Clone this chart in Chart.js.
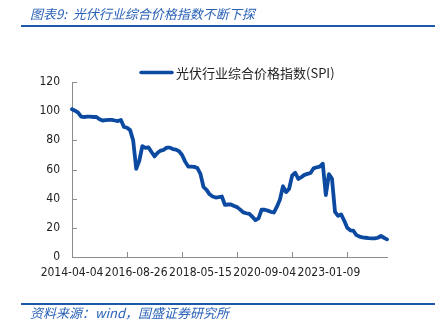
<!DOCTYPE html>
<html>
<head>
<meta charset="utf-8">
<script src="https://cdn.jsdelivr.net/npm/chart.js@4.4.1/dist/chart.umd.min.js"></script>
<style>
  html, body { margin: 0; padding: 0; background: #fff; }
  #wrap { position: relative; width: 435px; height: 327px; overflow: hidden; }
  #spiChart { position: absolute; left: 0; top: 0; }
  .caption {
    position: absolute; left: 30px; white-space: nowrap;
    font-family: "Noto Sans CJK SC", sans-serif; font-style: italic; font-size: 13px;
    color: #2a62b8;
  }
  #title { top: 5px; line-height: 18px; }
  #source { top: 305px; line-height: 16px; }
  .rule { position: absolute; left: 21px; right: 0; height: 2px; background: #1f57ad; }
  #ruleTop { top: 25px; }
  #ruleBottom { top: 303px; }
</style>
</head>
<body>
<div id="wrap">
  <canvas id="spiChart" width="435" height="327"></canvas>
  <div id="title" class="caption">图表9:&nbsp; 光伏行业综合价格指数不断下探</div>
  <div id="ruleTop" class="rule"></div>
  <div id="ruleBottom" class="rule"></div>
  <div id="source" class="caption">资料来源：wind，国盛证券研究所</div>
</div>
<script>
/* SPI price index line: category x axis with sparse date labels. */
var seriesName = "光伏行业综合价格指数(SPI)";
var tickLabels = ["2014-04-04", "2016-08-26", "2018-05-15", "2020-09-04", "2023-01-09"];
var yTicks = [0, 20, 40, 60, 80, 100, 120];
var spi = [
  101.3, 100.3, 99.0, 96.2, 96.0, 96.2, 96.2, 96.0, 96.0, 94.5,
  93.6, 93.8, 94.0, 94.0, 93.6, 93.2, 94.0, 89.2, 88.6, 87.0,
  80.0, 60.5, 66.0, 76.0, 74.8, 75.2, 72.0, 69.0, 71.5, 73.0,
  73.5, 75.0, 75.0, 74.0, 73.6, 72.5, 70.0, 65.4, 62.0, 62.0,
  61.8, 61.0, 57.0, 48.0, 46.0, 43.0, 41.5, 40.8, 41.0, 41.5,
  35.8, 36.0, 36.0, 35.0, 34.2, 32.5, 30.6, 30.0, 29.6, 27.5,
  25.3, 26.5, 32.5, 32.4, 31.8, 31.0, 30.5, 34.5, 39.5, 48.5,
  44.5, 46.8, 56.0, 57.8, 53.5, 54.8, 56.3, 57.0, 57.6, 60.8,
  61.5, 62.0, 64.0, 42.5, 56.8, 53.8, 31.0, 28.2, 29.2, 25.0,
  20.0, 18.3, 18.0, 15.0, 14.0, 13.5, 13.2, 12.9, 12.8, 12.8,
  13.2, 14.4, 13.2, 12.1
];

var labelEvery = 21; // a date label every 21 points
var markEvery = 18;  // an axis tick mark every 18 points

var labels = spi.map(function (_, i) {
  return i % labelEvery === 0 ? tickLabels[i / labelEvery] || "" : "";
});

var lineColor = "#0b4aa0";
var axisColor = "#8c8c8c";
var tickFont = { family: "'DejaVu Sans Condensed', 'DejaVu Sans', sans-serif", size: 12 };

// short tick marks pointing into the plot area
var innerTicks = {
  id: "innerTicks",
  beforeDatasetsDraw: function (chart) {
    var ctx = chart.ctx;
    var xs = chart.scales.x;
    var ys = chart.scales.y;
    var area = chart.chartArea;
    ctx.save();
    ctx.strokeStyle = axisColor;
    ctx.lineWidth = 1;
    ctx.beginPath();
    yTicks.forEach(function (v) {
      var y = Math.round(ys.getPixelForValue(v)) + 0.5;
      ctx.moveTo(area.left, y);
      ctx.lineTo(area.left + 5, y);
    });
    for (var i = 0; i < spi.length; i += markEvery) {
      var x = Math.round(xs.getPixelForValue(i)) + 0.5;
      ctx.moveTo(x, area.bottom);
      ctx.lineTo(x, area.bottom - 5);
    }
    ctx.stroke();
    ctx.restore();
  },
};

// single legend entry, sitting above the plot
var lineLegend = {
  id: "lineLegend",
  afterDraw: function (chart) {
    var ds = chart.data.datasets[0];
    var ctx = chart.ctx;
    ctx.save();
    ctx.strokeStyle = ds.borderColor;
    ctx.lineWidth = 3.5;
    ctx.lineCap = "round";
    ctx.beginPath();
    ctx.moveTo(141, 72.5);
    ctx.lineTo(172, 72.5);
    ctx.stroke();
    ctx.font = "13px 'Noto Sans CJK SC', sans-serif";
    ctx.fillStyle = "#222";
    ctx.textBaseline = "middle";
    ctx.fillText(ds.label, 176, 73);
    ctx.restore();
  },
};

new Chart(document.getElementById("spiChart"), {
  type: "line",
  plugins: [innerTicks, lineLegend],
  data: {
    labels: labels,
    datasets: [
      {
        label: seriesName,
        data: spi,
        borderColor: lineColor,
        backgroundColor: lineColor,
        borderWidth: 3.8,
        borderJoinStyle: "round",
        borderCapStyle: "round",
        pointRadius: 0,
        tension: 0,
        fill: false,
      },
    ],
  },
  options: {
    responsive: false,
    animation: false,
    layout: { padding: { top: 82, right: 48, bottom: 0, left: 0 } },
    plugins: { legend: { display: false }, tooltip: { enabled: false } },
    scales: {
      x: {
        type: "category",
        offset: false,
        afterFit: function (s) { s.height = 70; },
        grid: { display: false, drawTicks: false },
        border: { display: true, color: axisColor, width: 1 },
        ticks: {
          autoSkip: false,
          maxRotation: 0,
          minRotation: 0,
          padding: 9,
          color: "#222",
          font: tickFont,
        },
      },
      y: {
        min: 0,
        max: 120,
        afterFit: function (s) { s.width = 72; },
        grid: { display: false, drawTicks: false },
        border: { display: true, color: axisColor, width: 1 },
        ticks: { stepSize: 20, padding: 12, color: "#222", font: tickFont },
      },
    },
  },
});
</script>
</body>
</html>
